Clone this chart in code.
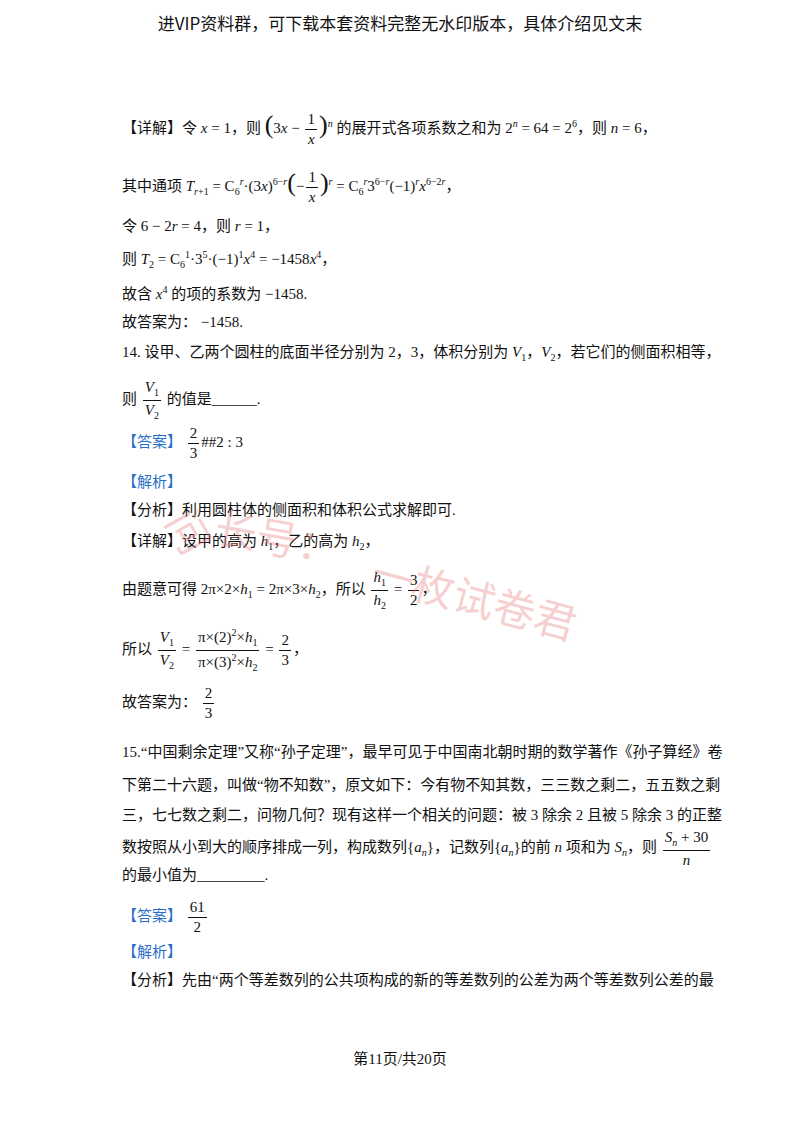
<!DOCTYPE html>
<html lang="zh">
<head>
<meta charset="UTF-8">
<title>第11页</title>
<script src="https://cdn.jsdelivr.net/npm/chart.js"></script>
<style>
  body { margin:0; width:800px; height:1132px; background:#fff; position:relative; overflow:hidden;
         font-family:"Liberation Serif","Noto Sans CJK SC",serif; font-size:15px; color:#111; }
  .l { position:absolute; left:122px; white-space:nowrap; line-height:1; }
  i { font-style:italic; }
  .b { color:#2a6fc9; }
  .fr { display:inline-flex; flex-direction:column; align-items:center; vertical-align:middle; margin:0 2px; }
  .fr span:first-child { border-bottom:1px solid #111; padding:0 2px 2px; }
  .fr span:last-child { padding-top:2px; }
  sub, sup { font-size:10px; }
  .wm { position:absolute; color:rgba(230,120,120,0.35); font-size:42px; font-family:"Noto Sans CJK SC"; white-space:nowrap; }
</style>
</head>
<body>
<div class="l" style="left:0;width:800px;text-align:center;top:14px;font-size:17px;font-family:'Noto Sans CJK SC'">进VIP资料群，可下载本套资料完整无水印版本，具体介绍见文末</div>

<div class="l" style="top:112px">【详解】令 <i>x</i> = 1，则 <span style="font-size:26px">(</span>3<i>x</i> − <span class="fr"><span>1</span><span><i>x</i></span></span><span style="font-size:26px">)</span><sup><i>n</i></sup> 的展开式各项系数之和为 2<sup><i>n</i></sup> = 64 = 2<sup>6</sup>，则 <i>n</i> = 6，</div>
<div class="l" style="top:170px">其中通项 <i>T</i><sub><i>r</i>+1</sub> = C<sub>6</sub><sup><i>r</i></sup>·(3<i>x</i>)<sup>6−<i>r</i></sup><span style="font-size:26px">(</span>−<span class="fr"><span>1</span><span><i>x</i></span></span><span style="font-size:26px">)</span><sup><i>r</i></sup> = C<sub>6</sub><sup><i>r</i></sup>3<sup>6−<i>r</i></sup>(−1)<sup><i>r</i></sup><i>x</i><sup>6−2<i>r</i></sup>，</div>
<div class="l" style="top:219px">令 6 − 2<i>r</i> = 4，则 <i>r</i> = 1，</div>
<div class="l" style="top:250px">则 <i>T</i><sub>2</sub> = C<sub>6</sub><sup>1</sup>·3<sup>5</sup>·(−1)<sup>1</sup><i>x</i><sup>4</sup> = −1458<i>x</i><sup>4</sup>，</div>
<div class="l" style="top:285px">故含 <i>x</i><sup>4</sup> 的项的系数为 −1458.</div>
<div class="l" style="top:315px">故答案为： −1458.</div>
<div class="l" style="top:345px">14. 设甲、乙两个圆柱的底面半径分别为 2，3，体积分别为 <i>V</i><sub>1</sub>，<i>V</i><sub>2</sub>，若它们的侧面积相等，</div>
<div class="l" style="top:380px">则 <span class="fr"><span><i>V</i><sub>1</sub></span><span><i>V</i><sub>2</sub></span></span> 的值是______.</div>
<div class="l" style="top:426px"><span class="b">【答案】</span> <span class="fr"><span>2</span><span>3</span></span>##2 : 3</div>
<div class="l b" style="top:475px">【解析】</div>
<div class="l" style="top:503px">【分析】利用圆柱体的侧面积和体积公式求解即可.</div>
<div class="l" style="top:534px">【详解】设甲的高为 <i>h</i><sub>1</sub>，乙的高为 <i>h</i><sub>2</sub>，</div>
<div class="l" style="top:570px">由题意可得 2π×2×<i>h</i><sub>1</sub> = 2π×3×<i>h</i><sub>2</sub>，所以 <span class="fr"><span><i>h</i><sub>1</sub></span><span><i>h</i><sub>2</sub></span></span> = <span class="fr"><span>3</span><span>2</span></span>，</div>
<div class="l" style="top:628px">所以 <span class="fr"><span><i>V</i><sub>1</sub></span><span><i>V</i><sub>2</sub></span></span> = <span class="fr"><span>π×(2)<sup>2</sup>×<i>h</i><sub>1</sub></span><span>π×(3)<sup>2</sup>×<i>h</i><sub>2</sub></span></span> = <span class="fr"><span>2</span><span>3</span></span>，</div>
<div class="l" style="top:686px">故答案为： <span class="fr"><span>2</span><span>3</span></span></div>
<div class="l" style="top:745px">15.“中国剩余定理”又称“孙子定理”，最早可见于中国南北朝时期的数学著作《孙子算经》卷</div>
<div class="l" style="top:778px">下第二十六题，叫做“物不知数”，原文如下：今有物不知其数，三三数之剩二，五五数之剩</div>
<div class="l" style="top:808px">三，七七数之剩二，问物几何？现有这样一个相关的问题：被 3 除余 2 且被 5 除余 3 的正整</div>
<div class="l" style="top:830px">数按照从小到大的顺序排成一列，构成数列{<i>a</i><sub><i>n</i></sub>}，记数列{<i>a</i><sub><i>n</i></sub>}的前 <i>n</i> 项和为 <i>S</i><sub><i>n</i></sub>，则 <span class="fr"><span><i>S</i><sub><i>n</i></sub> + 30</span><span><i>n</i></span></span></div>
<div class="l" style="top:868px">的最小值为_________.</div>
<div class="l" style="top:900px"><span class="b">【答案】</span> <span class="fr"><span>61</span><span>2</span></span></div>
<div class="l b" style="top:945px">【解析】</div>
<div class="l" style="top:973px">【分析】先由“两个等差数列的公共项构成的新的等差数列的公差为两个等差数列公差的最</div>
<div class="l" style="left:0;width:800px;text-align:center;top:1052px">第11页/共20页</div>

<div class="wm" style="left:170px;top:500px;transform:rotate(60deg)">问</div>
<div class="wm" style="left:215px;top:505px;transform:rotate(10deg)">长号：</div>
<div class="wm" style="left:370px;top:565px;transform:rotate(15deg)">一枚试卷君</div>
</body>
</html>
